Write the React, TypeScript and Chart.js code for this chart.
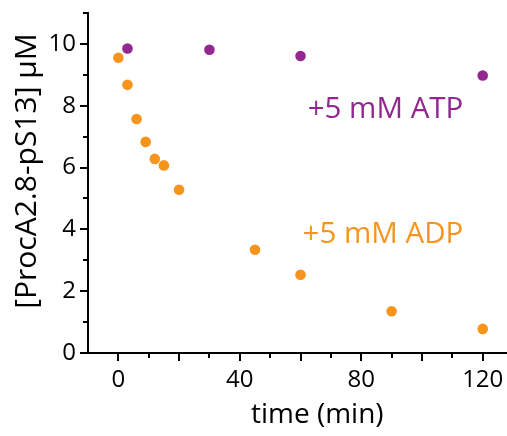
import React, { useEffect, useRef } from "react";
import { Chart, registerables } from "chart.js";

Chart.register(...registerables);

// ---- data ----
const adpTime = [0, 3, 6, 9, 12, 15, 20, 45, 60, 90, 120];
const adpConc = [9.55, 8.68, 7.57, 6.83, 6.28, 6.07, 5.28, 3.34, 2.53, 1.35, 0.78];
const atpTime = [3, 30, 60, 120];
const atpConc = [9.85, 9.81, 9.61, 8.98];

const xTickValues = [0, 10, 20, 30, 40, 50, 60, 70, 80, 90, 100, 110, 120];
const xLabelValues = [0, 40, 80, 120];
const yTickValues = [0, 1, 2, 3, 4, 5, 6, 7, 8, 9, 10, 11];
const yLabelValues = [0, 2, 4, 6, 8, 10];

const xTitle = "time (min)";
const yTitle = "[ProcA2.8-pS13] \u03bcM";
const atpLabel = "+5 mM ATP";
const adpLabel = "+5 mM ADP";

const PURPLE = "#92278f";
const ORANGE = "#f7941d";
const FONT = "'Open Sans', 'Noto Sans', sans-serif";

const W = 507;
const H = 436;

const decorPlugin = {
  id: "decor",
  afterDraw(chart: any) {
    const ctx = chart.ctx;
    const xs = chart.scales.x;
    const ys = chart.scales.y;
    const area = chart.chartArea;
    ctx.save();
    ctx.strokeStyle = "#000";
    ctx.lineWidth = 2;
    // x ticks
    xTickValues.forEach((v) => {
      const px = Math.round(xs.getPixelForValue(v));
      const len = v % 20 === 0 ? 8 : 5;
      ctx.beginPath();
      ctx.moveTo(px, area.bottom);
      ctx.lineTo(px, area.bottom + len);
      ctx.stroke();
    });
    // y ticks
    yTickValues.forEach((v) => {
      const py = Math.round(ys.getPixelForValue(v));
      const len = v % 2 === 0 ? 8 : 5;
      ctx.beginPath();
      ctx.moveTo(area.left, py);
      ctx.lineTo(area.left - len, py);
      ctx.stroke();
    });
    // titles
    ctx.fillStyle = "#000";
    ctx.font = `28px ${FONT}`;
    ctx.textAlign = "center";
    ctx.textBaseline = "middle";
    ctx.fillText(xTitle, xs.getPixelForValue(65.5), area.bottom + 62);
    ctx.save();
    ctx.font = `30px ${FONT}`;
    ctx.translate(27, (area.top + area.bottom) / 2 - 12);
    ctx.rotate(-Math.PI / 2);
    ctx.fillText(yTitle, 0, 0);
    ctx.restore();
    // annotations
    ctx.font = `29.5px ${FONT}`;
    ctx.textAlign = "right";
    ctx.fillStyle = PURPLE;
    ctx.fillText(atpLabel, xs.getPixelForValue(113.6), ys.getPixelForValue(7.88));
    ctx.fillStyle = ORANGE;
    ctx.fillText(adpLabel, xs.getPixelForValue(113.6), ys.getPixelForValue(3.82));
    ctx.restore();
  },
};

export default function App() {
  const ref = useRef<HTMLCanvasElement | null>(null);
  useEffect(() => {
    if (!ref.current) return;
    const chart = new Chart(ref.current, {
      type: "scatter",
      data: {
        datasets: [
          {
            label: "ADP",
            data: adpTime.map((t, i) => ({ x: t, y: adpConc[i] })),
            backgroundColor: ORANGE,
            borderColor: ORANGE,
            pointRadius: 5.3,
            borderWidth: 0,
          },
          {
            label: "ATP",
            data: atpTime.map((t, i) => ({ x: t, y: atpConc[i] })),
            backgroundColor: PURPLE,
            borderColor: PURPLE,
            pointRadius: 5.3,
            borderWidth: 0,
          },
        ],
      },
      options: {
        animation: false,
        responsive: false,
        maintainAspectRatio: false,
        layout: { autoPadding: false, padding: { top: 13, right: 0, left: 0, bottom: 0 } },
        plugins: { legend: { display: false }, tooltip: { enabled: false } },
        scales: {
          x: {
            type: "linear",
            min: -10,
            max: 128,
            afterBuildTicks: (s: any) => {
              s.ticks = xTickValues.map((v) => ({ value: v }));
            },
            afterFit: (s: any) => {
              s.height = 83;
              s.paddingLeft = 0;
              s.paddingRight = 0;
            },
            grid: {
              display: true,
              drawOnChartArea: false,
              drawTicks: true,
              tickLength: 8,
              tickColor: "rgba(0,0,0,0)",
            },
            border: { display: true, color: "#000", width: 2 },
            ticks: {
              autoSkip: false,
              maxRotation: 0,
              padding: 5,
              color: "#000",
              font: { family: FONT, size: 24 },
              callback: (v: any) => (xLabelValues.includes(Number(v)) ? String(v) : ""),
            },
          },
          y: {
            type: "linear",
            min: 0,
            max: 11,
            afterBuildTicks: (s: any) => {
              s.ticks = yTickValues.map((v) => ({ value: v }));
            },
            afterFit: (s: any) => {
              s.width = 88;
              s.paddingTop = 0;
              s.paddingBottom = 0;
            },
            grid: {
              display: true,
              drawOnChartArea: false,
              drawTicks: true,
              tickLength: 8,
              tickColor: "rgba(0,0,0,0)",
            },
            border: { display: true, color: "#000", width: 2 },
            ticks: {
              autoSkip: false,
              padding: 4,
              color: "#000",
              font: { family: FONT, size: 24 },
              callback: (v: any) => (yLabelValues.includes(Number(v)) ? String(v) : ""),
            },
          },
        },
      },
      plugins: [decorPlugin],
    });
    return () => chart.destroy();
  }, []);
  return (
    <div style={{ position: "fixed", left: 0, top: 0, width: W, height: H, background: "#fff" }}>
      <canvas ref={ref} width={W} height={H} style={{ width: W, height: H, display: "block" }} />
    </div>
  );
}
